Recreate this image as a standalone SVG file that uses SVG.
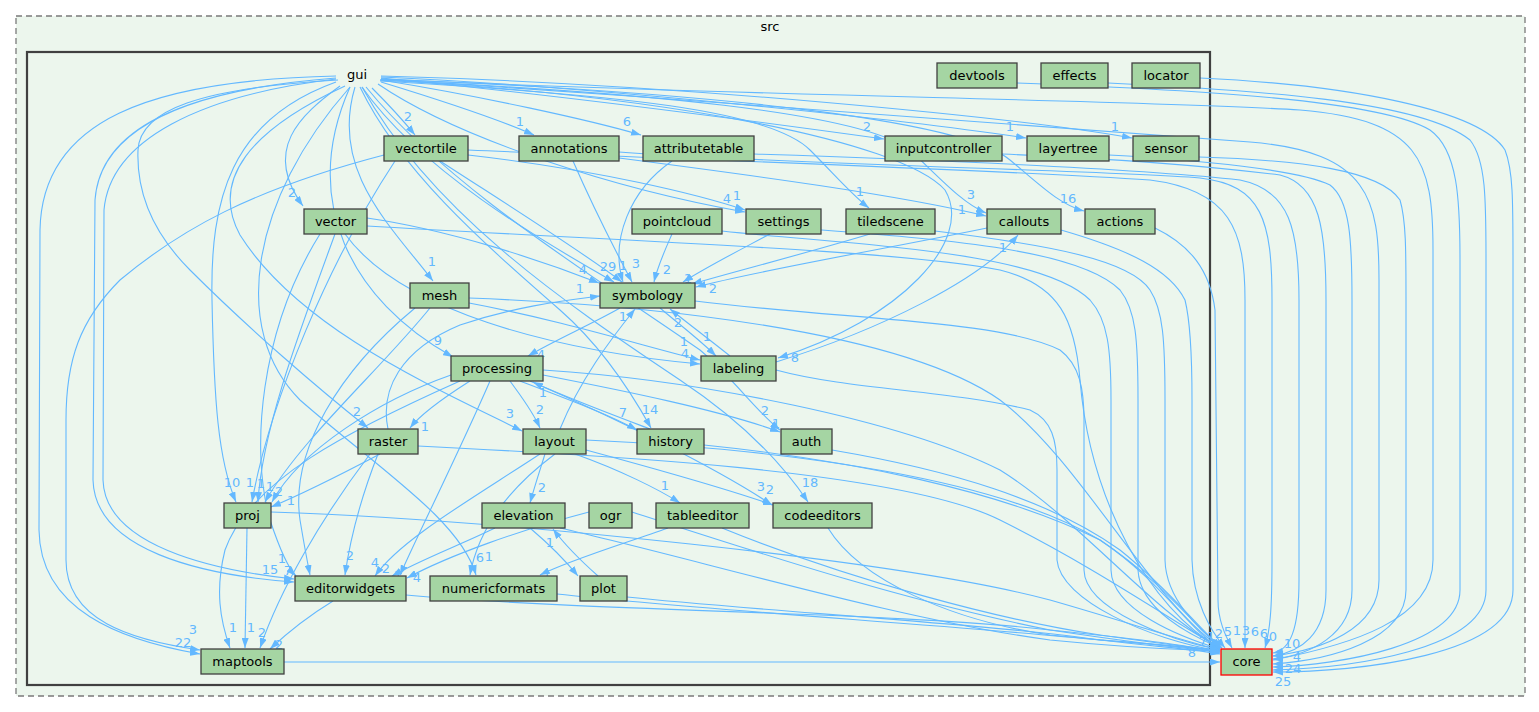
<svg xmlns="http://www.w3.org/2000/svg" width="1539" height="712" viewBox="0 0 1539 712">
<defs>
<marker id="a" viewBox="0 0 10 7" refX="10" refY="3.5" markerWidth="10" markerHeight="7" markerUnits="userSpaceOnUse" orient="auto">
<path d="M0,0 L10,3.5 L0,7 z" fill="#63b8ff"/>
</marker>
</defs>
<style>
text{font-family:"DejaVu Sans","Liberation Sans",sans-serif;font-size:13px;text-anchor:middle}
.n rect{fill:#a5d5a3;stroke:#404040;stroke-width:1.3}
.n text{fill:#000}
#edges path{fill:none;stroke:#63b8ff;stroke-width:1.1;marker-end:url(#a)}
#edges text{fill:#63b8ff}
</style>
<rect width="1539" height="712" fill="#ffffff"/>
<g id="cluster-src">
<rect x="16" y="16" width="1509" height="680" fill="#ecf6ed" stroke="#7a7a7a" stroke-width="1.3" stroke-dasharray="6,4"/>
<text x="770" y="31">src</text>
</g>
<g id="cluster-gui">
<rect x="27" y="52" width="1183" height="633" fill="#ecf6ed" stroke="#404040" stroke-width="2.2"/>
</g>
<g id="edges">
<!-- gui -->
<path d="M372,88 C388,104 402,119 415,135"/><text x="408" y="121">2</text>
<path d="M340,86 C300,115 262,150 303,206"/><text x="292" y="197">2</text>
<path d="M381,82 C440,100 500,120 534,135"/><text x="520" y="126">1</text>
<path d="M381,80 C480,96 590,120 641,135"/><text x="627" y="126">6</text>
<path d="M381,78 C560,95 790,126 884,139"/><text x="867" y="131">2</text>
<path d="M381,77 C620,88 920,122 1026,138"/><text x="1010" y="131">1</text>
<path d="M381,76 C680,84 1020,118 1132,138"/><text x="1115" y="131">1</text>
<path d="M378,84 C460,140 620,190 745,212"/><text x="727" y="203">4</text>
<path d="M380,81 C620,95 770,110 810,150 C835,175 852,195 869,208"/><text x="860" y="196">1</text>
<path d="M380,80 C640,92 860,112 910,150 C940,178 962,203 986,213"/><text x="971" y="199">3</text>
<path d="M381,79 C700,92 960,118 1010,160 C1040,185 1060,205 1084,211"/><text x="1068" y="203">16</text>
<path d="M380,80 C660,95 900,140 945,190 C975,240 900,320 778,358"/><text x="795" y="362">8</text>
<path d="M355,87 C330,170 390,225 433,281"/><text x="432" y="266">1</text>
<path d="M362,87 C420,170 540,240 614,282"/><text x="608" y="271">29</text>
<path d="M350,87 C300,200 350,300 453,357"/><text x="438" y="345">9</text>
<path d="M338,80 C200,88 140,110 138,150 C136,200 160,240 190,270 C250,330 320,390 368,428"/><text x="357" y="416">2</text>
<path d="M345,86 C250,130 210,180 240,235 C300,330 440,390 522,431"/><text x="510" y="418">3</text>
<path d="M360,87 C400,170 480,240 560,310 C600,345 630,390 651,428"/><text x="650" y="414">14</text>
<path d="M366,87 C450,190 600,280 700,350 C735,380 755,410 780,430"/><text x="765" y="415">2</text>
<path d="M336,82 C230,120 210,200 212,300 C214,400 218,460 236,502"/><text x="232" y="487">10</text>
<path d="M362,87 C430,210 560,300 680,380 C740,420 780,460 808,502"/><text x="810" y="487">18</text>
<path d="M336,78 C180,90 100,130 95,200 L93,480 C95,550 200,575 294,582"/><text x="270" y="574">15</text>
<path d="M336,79 C200,95 110,140 104,210 L103,480 C105,545 210,570 294,579"/><text x="282" y="563">1</text>
<path d="M350,87 C250,200 230,330 300,400 C380,470 460,520 476,575"/><text x="480" y="562">6</text>
<path d="M336,76 C150,80 42,120 40,230 L39,530 C40,610 120,640 200,654"/><text x="183" y="647">22</text>
<path d="M381,79 C700,95 1150,100 1300,110 C1420,120 1433,160 1433,250 L1433,560 C1433,620 1350,645 1273,660"/>
<path d="M381,79 C700,100 1100,130 1250,142 C1370,152 1379,200 1379,280 L1379,580 C1379,630 1320,650 1273,656"/>
<!-- vectortile -->
<path d="M440,161 C500,200 580,250 622,282"/><text x="623" y="270">1</text>
<path d="M468,150 C700,160 1000,170 1150,180 C1230,190 1245,230 1245,300 L1245,648"/>
<path d="M384,155 C250,190 180,230 120,280 C80,320 66,360 66,420 L66,560 C66,620 130,640 200,650"/><text x="193" y="634">3</text>
<path d="M468,155 C600,170 700,195 745,210"/><text x="737" y="200">1</text>
<path d="M395,161 C330,260 270,400 252,502"/><text x="250" y="487">1</text>
<!-- vector -->
<path d="M367,218 C450,230 540,260 599,283"/><text x="583" y="274">4</text>
<path d="M335,234 C300,330 262,430 258,502"/><text x="261" y="488">1</text>
<path d="M320,234 C260,330 250,450 270,520 C280,550 288,568 296,576"/><text x="288" y="575">7</text>
<path d="M345,234 C400,310 550,350 700,364"/><text x="684" y="346">1</text>
<path d="M367,226 C600,240 900,250 1000,270 C1060,285 1075,320 1080,380 C1090,500 1150,610 1220,648"/>
<!-- annotations -->
<path d="M573,161 C590,200 615,250 632,282"/><text x="636" y="268">3</text>
<path d="M619,152 C800,165 1100,170 1200,178 C1262,185 1272,220 1272,300 L1272,560 C1272,610 1270,630 1265,648"/>
<path d="M619,158 C750,175 900,195 986,216"/><text x="962" y="214">1</text>
<!-- attributetable -->
<path d="M672,161 C630,190 610,240 623,282"/>
<path d="M754,154 C950,160 1150,170 1240,180 C1290,190 1299,230 1299,300 L1299,580 C1299,630 1290,650 1273,653"/>
<!-- right side to core -->
<path d="M1002,154 C1100,158 1200,165 1280,175 C1320,185 1326,230 1326,300 L1326,590 C1326,635 1300,652 1273,656"/>
<path d="M1109,155 C1200,160 1300,170 1330,185 C1350,200 1352,240 1352,300 L1352,590 C1352,635 1310,655 1273,659"/>
<path d="M1199,157 C1300,160 1380,170 1400,200 C1406,220 1406,250 1406,300 L1406,590 C1406,640 1330,660 1273,664"/>
<path d="M1017,83 C1200,90 1380,100 1430,130 C1458,150 1460,200 1460,260 L1460,590 C1460,645 1340,665 1273,667"/>
<path d="M1108,83 C1250,90 1420,100 1470,140 C1486,160 1486,200 1486,260 L1486,590 C1486,650 1350,668 1273,670"/>
<path d="M1200,78 C1350,85 1480,110 1505,150 C1513,170 1513,200 1513,260 L1513,590 C1513,655 1360,672 1273,672"/>
<path d="M1155,228 C1190,245 1210,270 1215,310 L1218,600 C1218,620 1225,635 1232,648"/>
<path d="M1061,230 C1130,250 1170,270 1185,300 C1190,320 1192,350 1192,400 L1192,560 C1193,600 1210,630 1225,648"/>
<path d="M935,231 C1050,245 1130,260 1150,290 C1163,310 1165,340 1165,400 L1165,560 C1166,600 1200,630 1222,648"/>
<path d="M821,230 C950,240 1080,250 1120,290 C1136,310 1138,340 1138,400 L1138,570 C1140,610 1190,635 1220,648"/>
<path d="M722,231 C850,245 1040,250 1090,300 C1108,320 1111,350 1111,400 L1111,570 C1112,610 1180,637 1220,649"/>
<path d="M695,301 C850,320 1000,320 1060,350 C1080,365 1084,390 1084,420 L1084,570 C1085,610 1170,640 1220,650"/>
<path d="M776,370 C850,390 950,390 1030,410 C1052,420 1057,440 1057,470 L1057,560 C1060,600 1150,640 1220,651"/>
<!-- symbology neighbours -->
<path d="M770,234 C740,250 710,265 683,282"/><text x="688" y="283">1</text>
<path d="M870,234 C800,255 740,270 692,284"/>
<path d="M987,228 C880,250 760,270 696,287"/><text x="713" y="293">2</text>
<path d="M672,234 C665,250 658,265 654,282"/><text x="667" y="274">2</text>
<path d="M620,308 C590,325 555,340 528,356"/><text x="541" y="359">4</text>
<path d="M730,356 C710,340 690,325 670,309"/><text x="678" y="327">2</text>
<path d="M660,308 C680,325 700,340 716,356"/><text x="707" y="341">1</text>
<path d="M776,362 C880,330 980,280 1018,235"/><text x="1003" y="252">1</text>
<!-- mesh -->
<path d="M469,303 C560,320 640,345 700,360"/><text x="685" y="358">4</text>
<path d="M469,298 C650,305 900,330 1000,400 C1080,460 1150,600 1220,647"/>
<path d="M430,308 C380,370 300,440 265,502"/><text x="270" y="491">1</text>
<path d="M415,308 C340,370 290,450 300,520 C305,550 308,565 310,575"/>
<!-- processing -->
<path d="M470,381 C440,400 420,415 410,428"/><text x="425" y="431">1</text>
<path d="M510,381 C520,395 532,410 540,428"/><text x="540" y="414">2</text>
<path d="M520,381 C570,400 610,415 637,430"/><text x="623" y="417">7</text>
<path d="M543,375 C620,390 720,410 780,432"/><text x="776" y="428">1</text>
<path d="M530,381 C620,420 720,470 772,505"/><text x="761" y="491">3</text>
<path d="M490,381 C460,450 420,530 400,575"/><text x="386" y="573">2</text>
<path d="M451,375 C380,400 300,450 272,502"/><text x="279" y="496">2</text>
<path d="M460,381 C350,430 250,480 225,550 C215,590 220,620 230,648"/><text x="233" y="632">1</text>
<path d="M543,370 C700,380 900,420 1000,470 C1080,520 1150,610 1220,648"/>
<!-- history -->
<path d="M650,429 C600,410 560,395 533,382"/><text x="543" y="397">1</text>
<path d="M704,445 C850,460 1000,490 1100,540 C1160,580 1190,630 1220,649"/>
<!-- raster -->
<path d="M388,429 C380,390 400,350 460,325 C520,305 570,300 600,296"/><text x="580" y="293">1</text>
<path d="M380,454 C340,475 300,495 271,507"/><text x="291" y="505">1</text>
<path d="M378,454 C360,500 350,540 345,575"/><text x="350" y="560">2</text>
<path d="M370,454 C320,520 280,590 260,648"/><text x="262" y="637">2</text>
<path d="M418,446 C600,455 900,470 1000,520 C1100,570 1170,620 1220,648"/>
<!-- layout -->
<path d="M560,429 C580,380 610,340 635,309"/><text x="623" y="321">1</text>
<path d="M545,454 C540,470 535,485 530,503"/><text x="542" y="492">2</text>
<path d="M575,454 C620,470 660,490 680,503"/><text x="665" y="490">1</text>
<path d="M586,450 C660,470 730,490 773,505"/><text x="770" y="494">2</text>
<path d="M540,454 C470,500 400,540 375,576"/><text x="375" y="567">4</text>
<path d="M555,454 C520,480 480,520 470,575"/><text x="489" y="561">1</text>
<path d="M586,440 C800,450 1000,480 1100,540 C1160,580 1190,620 1220,648"/>
<!-- auth / proj / elevation / ogr / tableeditor / codeeditors -->
<path d="M832,450 C950,470 1050,500 1120,550 C1170,590 1200,630 1222,648"/>
<path d="M247,528 L245,648"/><text x="251" y="632">1</text>
<path d="M271,512 C500,520 900,560 1050,600 C1120,620 1180,640 1220,650"/>
<path d="M530,528 C550,545 565,560 578,576"/>
<path d="M598,576 C580,560 565,545 553,529"/><text x="550" y="547">1</text>
<path d="M495,528 C460,545 420,560 392,576"/><text x="398" y="580">1</text>
<path d="M560,528 C700,560 900,620 1050,640 C1150,650 1200,650 1220,651"/>
<path d="M589,512 C520,530 450,555 407,578"/><text x="417" y="582">4</text>
<path d="M632,512 C750,550 900,600 1050,630 C1150,645 1200,650 1220,652"/>
<path d="M668,528 C620,545 570,560 540,575"/><text x="547" y="581">1</text>
<path d="M722,528 C850,580 1000,620 1100,635 C1170,645 1200,648 1220,651"/>
<path d="M828,528 C860,580 950,620 1050,635 C1150,645 1200,648 1220,650"/>
<!-- bottom -->
<path d="M333,601 C310,615 285,635 270,649"/><text x="279" y="649">2</text>
<path d="M406,595 C600,612 900,612 1050,630 C1150,640 1200,648 1220,652"/>
<path d="M557,594 C700,610 950,625 1100,640 C1170,645 1200,648 1220,653"/>
<path d="M627,597 C750,610 1000,625 1100,640 C1170,648 1200,650 1220,654"/>
<path d="M284,662 L1220,662"/><text x="1192" y="657">8</text>
<!-- core labels -->
<text x="1203" y="646">7</text>
<text x="1211" y="641">1</text>
<text x="1219" y="638">2</text>
<text x="1228" y="636">5</text>
<text x="1237" y="635">1</text>
<text x="1246" y="635">3</text>
<text x="1255" y="636">6</text>
<text x="1264" y="638">6</text>
<text x="1273" y="641">0</text>
<text x="1292" y="648">10</text>
<text x="1280" y="659">3</text>
<text x="1297" y="661">4</text>
<text x="1293" y="673">24</text>
<text x="1283" y="686">25</text>
</g>
<g id="node-gui"><text x="357" y="79">gui</text></g>
<g id="node-devtools" class="n"><rect x="937" y="63" width="80" height="25"/><text x="977" y="80">devtools</text></g>
<g id="node-effects" class="n"><rect x="1041" y="63" width="67" height="25"/><text x="1074.5" y="80">effects</text></g>
<g id="node-locator" class="n"><rect x="1132" y="63" width="68" height="25"/><text x="1166" y="80">locator</text></g>
<g id="node-vectortile" class="n"><rect x="384" y="136" width="84" height="25"/><text x="426" y="153">vectortile</text></g>
<g id="node-annotations" class="n"><rect x="519" y="136" width="100" height="25"/><text x="569" y="153">annotations</text></g>
<g id="node-attributetable" class="n"><rect x="643" y="136" width="111" height="25"/><text x="698.5" y="153">attributetable</text></g>
<g id="node-inputcontroller" class="n"><rect x="885" y="136" width="117" height="25"/><text x="943.5" y="153">inputcontroller</text></g>
<g id="node-layertree" class="n"><rect x="1027" y="136" width="82" height="25"/><text x="1068" y="153">layertree</text></g>
<g id="node-sensor" class="n"><rect x="1133" y="136" width="66" height="25"/><text x="1166" y="153">sensor</text></g>
<g id="node-vector" class="n"><rect x="304" y="209" width="63" height="25"/><text x="335.5" y="226">vector</text></g>
<g id="node-pointcloud" class="n"><rect x="632" y="209" width="90" height="25"/><text x="677" y="226">pointcloud</text></g>
<g id="node-settings" class="n"><rect x="746" y="209" width="75" height="25"/><text x="783.5" y="226">settings</text></g>
<g id="node-tiledscene" class="n"><rect x="846" y="209" width="89" height="25"/><text x="890.5" y="226">tiledscene</text></g>
<g id="node-callouts" class="n"><rect x="987" y="209" width="74" height="25"/><text x="1024" y="226">callouts</text></g>
<g id="node-actions" class="n"><rect x="1085" y="209" width="70" height="25"/><text x="1120" y="226">actions</text></g>
<g id="node-mesh" class="n"><rect x="410" y="283" width="59" height="25"/><text x="439.5" y="300">mesh</text></g>
<g id="node-symbology" class="n"><rect x="600" y="283" width="95" height="25"/><text x="647.5" y="300">symbology</text></g>
<g id="node-processing" class="n"><rect x="451" y="356" width="92" height="25"/><text x="497" y="373">processing</text></g>
<g id="node-labeling" class="n"><rect x="701" y="356" width="75" height="25"/><text x="738.5" y="373">labeling</text></g>
<g id="node-raster" class="n"><rect x="358" y="429" width="60" height="25"/><text x="388" y="446">raster</text></g>
<g id="node-layout" class="n"><rect x="523" y="429" width="63" height="25"/><text x="554.5" y="446">layout</text></g>
<g id="node-history" class="n"><rect x="637" y="429" width="67" height="25"/><text x="670.5" y="446">history</text></g>
<g id="node-auth" class="n"><rect x="781" y="429" width="51" height="25"/><text x="806.5" y="446">auth</text></g>
<g id="node-proj" class="n"><rect x="224" y="503" width="47" height="25"/><text x="247.5" y="520">proj</text></g>
<g id="node-elevation" class="n"><rect x="482" y="503" width="83" height="25"/><text x="523.5" y="520">elevation</text></g>
<g id="node-ogr" class="n"><rect x="589" y="503" width="43" height="25"/><text x="610.5" y="520">ogr</text></g>
<g id="node-tableeditor" class="n"><rect x="656" y="503" width="93" height="25"/><text x="702.5" y="520">tableeditor</text></g>
<g id="node-codeeditors" class="n"><rect x="773" y="503" width="99" height="25"/><text x="822.5" y="520">codeeditors</text></g>
<g id="node-editorwidgets" class="n"><rect x="295" y="576" width="111" height="25"/><text x="350.5" y="593">editorwidgets</text></g>
<g id="node-numericformats" class="n"><rect x="430" y="576" width="127" height="25"/><text x="493.5" y="593">numericformats</text></g>
<g id="node-plot" class="n"><rect x="580" y="576" width="47" height="25"/><text x="603.5" y="593">plot</text></g>
<g id="node-maptools" class="n"><rect x="201" y="649" width="83" height="25"/><text x="242.5" y="666">maptools</text></g>
<g id="node-core" class="n"><rect x="1221" y="649" width="51" height="26" style="stroke:#ff0000"/><text x="1246.5" y="666">core</text></g>
</svg>
